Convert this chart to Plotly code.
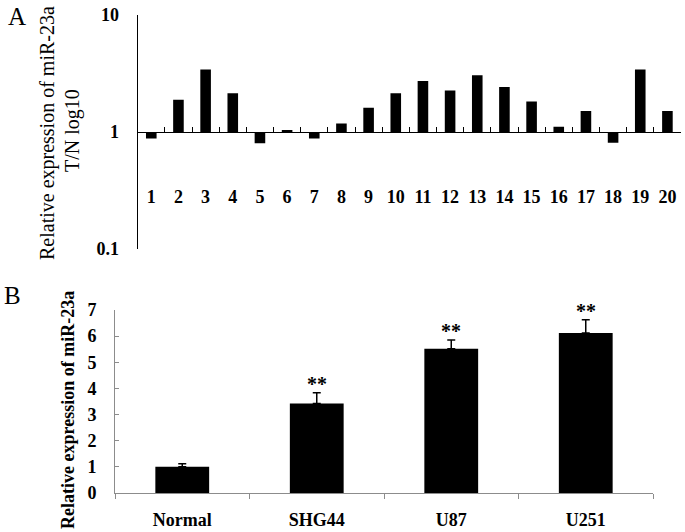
import numpy as np
import plotly.graph_objects as go

W, H = 685, 532

# ---- Panel A data (tumour / normal ratio, plotted on log10 scale) ----
samples = [str(i) for i in range(1, 21)]
ratios = [0.88, 1.89, 3.42, 2.14, 0.80, 1.03, 0.88, 1.18, 1.61, 2.14,
          2.73, 2.26, 3.06, 2.43, 1.82, 1.11, 1.51, 0.81, 3.42, 1.51]
a_tickvals = [-1, 0, 1]
a_ticktext = ["0.1", "1", "10"]

# ---- Panel B data ----
cells = ["Normal", "SHG44", "U87", "U251"]
expr = [1.0, 3.42, 5.52, 6.12]
err = [0.12, 0.41, 0.33, 0.51]
stars = ["", "**", "**", "**"]

SERIF = "Liberation Serif, Times New Roman, serif"


def px_x(p):
    return p / W


def px_y(p):
    return 1 - p / H


fig = go.Figure()

fig.add_trace(go.Bar(
    x=samples, y=np.log10(ratios), marker=dict(color="black", line=dict(width=0)),
    xaxis="x", yaxis="y", width=0.39, showlegend=False))

fig.add_trace(go.Bar(
    x=cells, y=expr, marker=dict(color="black", line=dict(width=0)),
    error_y=dict(type="data", symmetric=False, array=err, arrayminus=[0] * 4,
                 color="black", thickness=1.5, width=4),
    xaxis="x2", yaxis="y2", width=0.40, showlegend=False))

# domains (pixel positions in the figure)
ax_l, ax_r, ay_t, ay_b = 137.7, 681, 15, 249
bx_l, bx_r, by_t, by_b = 115, 653, 310, 493

tick_font = dict(family=SERIF, size=18, color="black", weight="bold")

fig.update_layout(
    width=W, height=H,
    margin=dict(l=0, r=0, t=0, b=0, autoexpand=False),
    paper_bgcolor="white", plot_bgcolor="white",
    font=dict(family=SERIF, color="black"),
    xaxis=dict(
        domain=[px_x(ax_l), px_x(ax_r)], anchor="free",
        position=(px_y(ay_b) + px_y(ay_t)) / 2, automargin=False,
        type="category", range=[-0.5, 19.5],
        tickson="boundaries", ticks="inside", ticklen=5, tickcolor="black",
        tickwidth=1, showline=True, linecolor="black", linewidth=1,
        showgrid=False, zeroline=False, tickfont=tick_font,
        ticklabelstandoff=48),
    yaxis=dict(
        domain=[px_y(ay_b), px_y(ay_t)], anchor="x", range=[-1, 1],
        automargin=False,
        tickmode="array", tickvals=a_tickvals, ticktext=a_ticktext,
        ticks="inside", ticklen=5, tickcolor="black", showline=True,
        linecolor="black", linewidth=1, showgrid=False, zeroline=False,
        tickfont=tick_font, ticklabelstandoff=14),
    xaxis2=dict(
        domain=[px_x(bx_l), px_x(bx_r)], anchor="y2", type="category",
        automargin=False,
        range=[-0.5, 3.5], tickson="boundaries", ticks="outside", ticklen=5,
        tickcolor="#8c8c8c", showline=True, linecolor="#8c8c8c", linewidth=1,
        showgrid=False, zeroline=False, tickfont=tick_font,
        ticklabelstandoff=10),
    yaxis2=dict(
        domain=[px_y(by_b), px_y(by_t)], anchor="x2", range=[0, 7], dtick=1,
        automargin=False,
        ticks="inside", ticklen=4, tickcolor="#8c8c8c", showline=True,
        linecolor="#8c8c8c", linewidth=1, showgrid=False, zeroline=False,
        tickfont=tick_font, ticklabelstandoff=14),
)

ann = []


def label(text, x, y, size, angle=0, bold=False):
    ann.append(dict(text=("<b>%s</b>" % text) if bold else text,
                    x=px_x(x), y=px_y(y), xref="paper", yref="paper",
                    xanchor="center", yanchor="middle", showarrow=False,
                    textangle=angle,
                    font=dict(family=SERIF, size=size, color="black")))


# panel letters
label("A", 17, 17, 25)
label("B", 12, 295, 25)
# panel A y-title (two lines)
label("Relative expression of miR-23a", 47, 133, 20, -90)
label("T/N log10", 73, 131, 20, -90)
# panel B y-title
label("Relative expression of miR-23a", 68, 410, 18, -90, bold=True)

# significance stars
for c, v, e, s in zip(cells, expr, err, stars):
    if s:
        ann.append(dict(text="<b>" + s + "</b>", x=c, y=v + e, xref="x2", yref="y2",
                        showarrow=False, xanchor="center", yanchor="bottom", yshift=-4,
                        font=dict(family=SERIF, size=20, color="black")))

fig.update_layout(annotations=ann)

fig.write_html(
    "out.html",
    config={"displayModeBar": False},
    post_script="document.body.style.margin='0';document.body.style.padding='0';",
)
